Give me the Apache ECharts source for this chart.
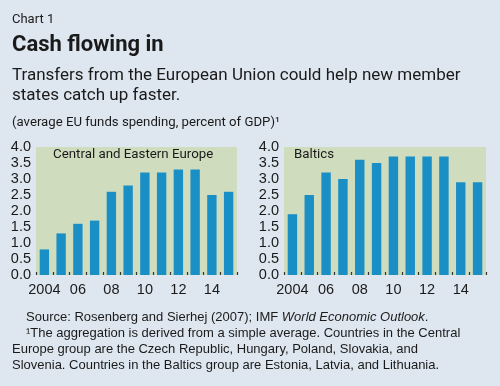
<!DOCTYPE html>
<html><head><meta charset="utf-8">
<script src="https://cdn.jsdelivr.net/npm/echarts@6/dist/echarts.min.js"></script>
<style>html,body{margin:0;padding:0;background:#dee7f0;}#c{width:500px;height:386px;}</style>
</head><body><div id="c"></div>
<script>
const categories = ['2004','05','06','07','08','09','10','11','12','13','14','15'];
const ceeValues = [0.8,1.3,1.6,1.7,2.6,2.8,3.2,3.2,3.3,3.3,2.5,2.6];
const balticValues = [1.9,2.5,3.2,3.0,3.6,3.5,3.7,3.7,3.7,3.7,2.9,2.9];
const panelTitles = ['Central and Eastern Europe','Baltics'];
const yMin = 0, yMax = 4, yStep = 0.5;

const NARROW = "'Roboto',sans-serif";
const SANS = "'Liberation Sans',Arial,sans-serif";
const INK = '#1a1a1a';
const BLUE = '#1a8fc5';
const GREEN = '#cfdcbe';

function mkX(i){return {gridIndex:i,type:'category',data:categories,boundaryGap:true,
  axisLine:{show:false},
  axisTick:{show:true,inside:true,length:3,interval:0,lineStyle:{color:'#333',width:1.2}},
  axisLabel:{interval:1,margin:7,fontSize:14.5,fontFamily:SANS,color:INK},
  splitLine:{show:false}};}
function mkY(i){return {gridIndex:i,type:'value',min:yMin,max:yMax,interval:yStep,
  axisLine:{show:false},axisTick:{show:false},splitLine:{show:false},
  axisLabel:{margin:5,fontSize:14.5,fontFamily:SANS,color:INK,formatter:v=>v.toFixed(1)}};}

function txt(x,y,text,font,extra){return Object.assign({type:'text',x:x,y:y,silent:true,
  style:{text:text,font:font,fill:INK,verticalAlign:'middle',align:'left'}},extra||{});}

const chart = echarts.init(document.getElementById('c'),null,{renderer:'canvas'});
chart.setOption({
  backgroundColor:'#dee7f0',
  animation:false,
  grid:[
    {left:36,right:263,top:147,bottom:111,show:true,backgroundColor:GREEN,borderWidth:0},
    {left:284,right:14,top:147,bottom:111,show:true,backgroundColor:GREEN,borderWidth:0}
  ],
  xAxis:[mkX(0),mkX(1)],
  yAxis:[mkY(0),mkY(1)],
  series:[
    {type:'bar',xAxisIndex:0,yAxisIndex:0,data:ceeValues,barCategoryGap:'44%',itemStyle:{color:BLUE}},
    {type:'bar',xAxisIndex:1,yAxisIndex:1,data:balticValues,barCategoryGap:'44%',itemStyle:{color:BLUE}}
  ],
  graphic:[
    txt(12,19.3,'Chart 1','13px '+NARROW),
    txt(12,45.8,'Cash flowing in','bold 22px '+NARROW),
    txt(12,75.8,'Transfers from the European Union could help new member','17px '+NARROW),
    txt(12,95.8,'states catch up faster.','17px '+NARROW),
    txt(12,123.1,'(average EU funds spending, percent of GDP)\u00b9','13.2px '+NARROW),
    txt(53,155,panelTitles[0],'13.3px '+NARROW),
    txt(294,155,panelTitles[1],'13.3px '+NARROW),
    {type:'text',x:26,y:317.8,silent:true,style:{
      text:'{n|Source: Rosenberg and Sierhej (2007); IMF }{i|World Economic Outlook}{n|.}',
      verticalAlign:'middle',align:'left',fill:INK,
      rich:{n:{font:'13px '+SANS,fill:INK},i:{font:'italic 13px '+SANS,fill:INK}}}},
    txt(26,333.8,'\u00b9The aggregation is derived from a simple average. Countries in the Central','13px '+SANS),
    txt(12,349.5,'Europe group are the Czech Republic, Hungary, Poland, Slovakia, and','13px '+SANS),
    txt(12,365.2,'Slovenia. Countries in the Baltics group are Estonia, Latvia, and Lithuania.','13px '+SANS)
  ]
});
</script></body></html>
